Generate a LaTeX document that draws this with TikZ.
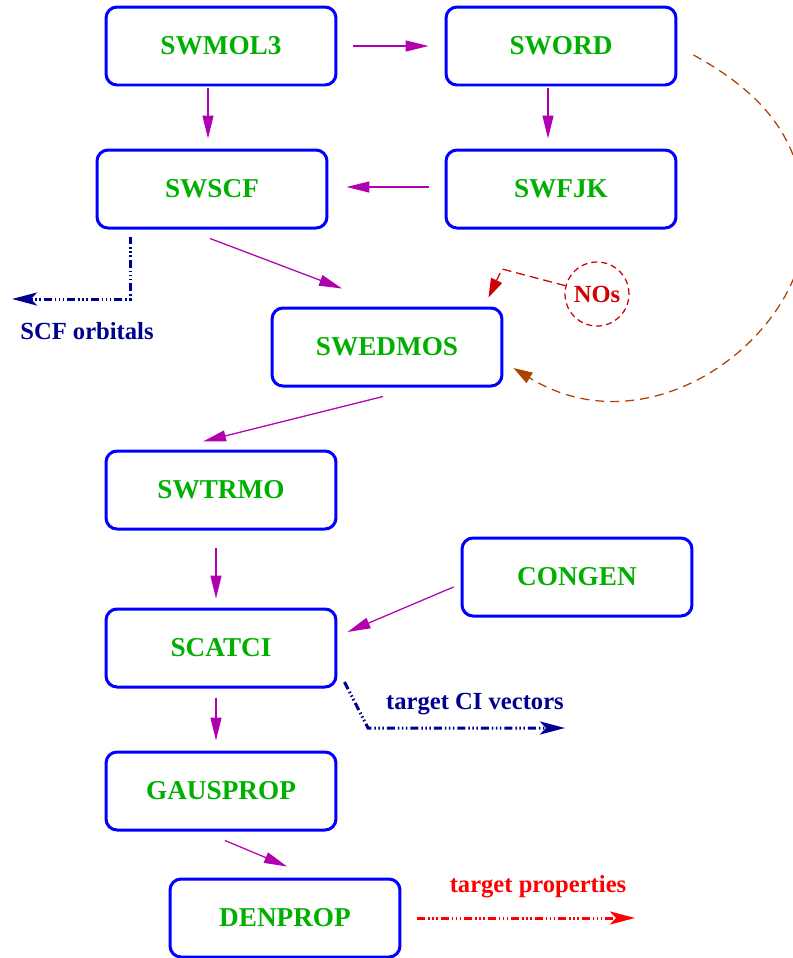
\documentclass[tikz,border=0pt]{standalone}
\usepackage{fontspec}
\setmainfont{Liberation Serif}
\usetikzlibrary{calc,arrows.meta}
\definecolor{boxblue}{RGB}{0,0,255}
\definecolor{txtgreen}{RGB}{0,176,0}
\definecolor{mag}{RGB}{176,0,176}
\definecolor{navyc}{RGB}{0,0,144}
\definecolor{redc}{RGB}{255,0,0}
\definecolor{nosred}{RGB}{208,0,0}
\definecolor{brownc}{RGB}{176,64,0}
\tikzset{
  prog/.style={draw=boxblue, line width=0.06cm, rounded corners=0.22cm,
    minimum width=4.6cm, minimum height=1.56cm, inner sep=0pt,
    text=txtgreen, font=\fontsize{15.5}{18}\selectfont\bfseries},
  flow/.style={draw=mag, line width=0.025cm,
    -{Triangle[length=0.46cm,width=0.22cm]}},
  ddot/.style={line width=0.06cm,
    dash pattern=on 0.16cm off 0.06cm on 0.03cm off 0.05cm on 0.03cm off 0.05cm on 0.03cm off 0.06cm},
  outarrow/.style={-{Stealth[length=0.5cm,width=0.26cm,inset=0.12cm]}},
  lbl/.style={font=\fontsize{14}{16}\selectfont\bfseries, inner sep=0pt},
}
\begin{document}
\begin{tikzpicture}[x=0.02cm,y=-0.02cm]
\useasboundingbox (0,0) rectangle (793,958);

\node[prog] (mol) at (221,46) {SWMOL3};
\node[prog] (ord) at (561,46) {SWORD};
\node[prog] (scf) at (212,189) {SWSCF};
\node[prog] (fjk) at (561,189) {SWFJK};
\node[prog] (edm) at (387,347) {SWEDMOS};
\node[prog] (trm) at (221,490) {SWTRMO};
\node[prog] (con) at (577,577) {CONGEN};
\node[prog] (sci) at (221,648) {SCATCI};
\node[prog] (gau) at (221,791) {GAUSPROP};
\node[prog] (den) at (285,918) {DENPROP};

% magenta flow arrows
\draw[flow] ($(mol.east)+(16,0)$) -- ($(ord.west)+(-16,0)$);
\draw[flow] ($(mol.south)+(-13,2)$) -- ($(scf.north)+(-4,-10)$);
\draw[flow] ($(ord.south)+(-13,2)$) -- ($(fjk.north)+(-13,-10)$);
\draw[flow] ($(fjk.west)+(-16,-2)$) -- ($(scf.east)+(18,-2)$);
\draw[flow] ($(scf.south)+(-2,9)$) -- ($(edm.north)+(-45,-18)$);
\draw[flow] ($(edm.south)+(-4,9)$) -- ($(trm.north)+(-18,-8)$);
\draw[flow] ($(trm.south)+(-5,17)$) -- ($(sci.north)+(-5,-9)$);
\draw[flow] ($(con.west)+(-7,10)$) -- ($(sci.east)+(10,-16)$);
\draw[flow] ($(sci.south)+(-5,9)$) -- ($(gau.north)+(-5,-10)$);
\draw[flow] ($(gau.south)+(4,9)$) -- ($(den.north)+(2,-11)$);

% SCF orbitals output
\coordinate (scfcorner) at (130,299);
\coordinate (scfend) at (12,299);
\draw[navyc, ddot, outarrow] ($(scf.south)+(-82,7)$) -- (scfcorner) -- (scfend);
\node[lbl, text=navyc] (scflbl) at (87,331) {SCF orbitals};

% target CI vectors
\coordinate (cicorner) at (368,728);
\coordinate (ciend) at (565,728);
\draw[navyc, ddot, outarrow] ($(sci.east)+(7,34)$) -- (cicorner) -- (ciend);
\node[lbl, text=navyc] (cilbl) at (475,704) {target CI vectors};

% target properties
\coordinate (tpend) at (635,918);
\draw[redc, ddot, outarrow] ($(den.east)+(16,0)$) -- (tpend);
\node[lbl, text=redc] (tplbl) at (538,887) {target properties};

% NOs
\node[lbl, text=nosred, draw=nosred, circle, line width=0.025cm,
  minimum size=1.28cm, dash pattern=on 0.12cm off 0.08cm] (nos) at (597,294) {NOs};
\coordinate (nosbend) at (502,269);
\draw[nosred, line width=0.025cm, dash pattern=on 0.18cm off 0.1cm,
  -{Triangle[length=0.38cm,width=0.24cm]}]
  (nos) -- (nosbend) -- ($(edm.north east)+(-15,-9)$);

% brown loop from SWORD back to SWEDMOS
\coordinate (loopmid) at (805,225);
\draw[brownc, line width=0.025cm, dash pattern=on 0.18cm off 0.12cm,
  -{Triangle[length=0.38cm,width=0.24cm]}]
  ($(ord.east)+(16,9)$) .. controls (774,99) and (805,150) .. (loopmid)
  .. controls (805,335) and (652,453) .. ($(edm.east)+(10,21)$);
\end{tikzpicture}
\end{document}
